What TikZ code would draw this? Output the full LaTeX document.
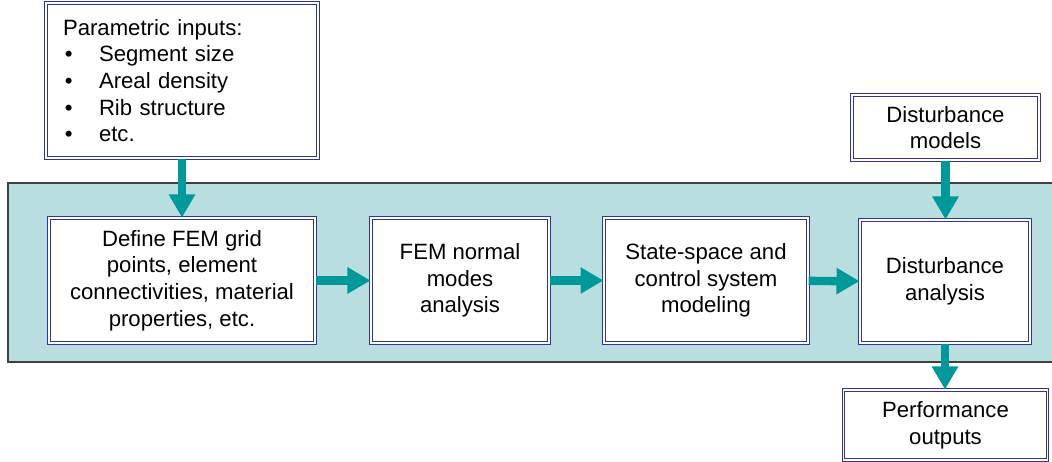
\documentclass[tikz,border=0pt]{standalone}
\usepackage{fontspec}
\setmainfont{Liberation Sans}
\usepackage{tikz}
\usetikzlibrary{arrows.meta}
\usetikzlibrary{positioning}

\definecolor{boxline}{RGB}{51,51,153}
\definecolor{flowcol}{RGB}{0,153,153}
\definecolor{bandfill}{RGB}{184,222,224}
\definecolor{bandline}{RGB}{64,64,64}

\newcommand{\bul}{\makebox[0.72cm][l]{\hspace{1pt}\textbullet}}

\begin{document}
\begin{tikzpicture}[x=0.02cm,y=-0.02cm,
  every node/.style={font=\fontsize{12.6}{15.2}\selectfont},
  blk/.style={draw=boxline,double=white,double distance=1pt,line width=0.6pt,fill=white,align=center,inner sep=0pt},
  flow/.style={flowcol,line width=4.8pt,-{Triangle[length=0.46cm,width=0.5cm]}}]
  \useasboundingbox (0,0) rectangle (1052,461);

  % band behind the chain
  \fill[bandfill] (8,183) rectangle (1060,362);
  \draw[bandline,thick] (1060,183) -- (8,183) -- (8,362) -- (1060,362);

  \node[blk,align=left,text width=4.76cm,inner xsep=0.34cm,minimum height=3.1cm] (inp) at (182,80.5)
    {Parametric inputs:\\ \bul Segment size\\ \bul Areal density\\ \bul Rib structure\\ \bul etc.};
  \node[blk,minimum width=3.74cm,minimum height=1.3cm] (dm) at (945.5,127.5) {Disturbance\\ models};

  \node[blk,minimum width=5.32cm,minimum height=2.5cm] (fem) at (182,280.5)
    {Define FEM grid\\ points, element\\ connectivities, material\\ properties, etc.};
  \node[blk,minimum width=3.56cm,minimum height=2.5cm] (modes) at (460,280.5) {FEM normal\\ modes\\ analysis};
  \node[blk,minimum width=4.08cm,minimum height=2.5cm] (ss) at (706,280.5) {State-space and\\ control system\\ modeling};
  \node[blk,minimum width=3.4cm,minimum height=2.46cm] (da) at (945,281.5) {Disturbance\\ analysis};

  \node[blk,minimum width=4.08cm,minimum height=1.4cm] (perf) at (945.5,425) {Performance\\ outputs};

  \draw[flow] (inp.south) -- (inp.south |- fem.north);
  \draw[flow] (fem) -- (modes);
  \draw[flow] (modes) -- (ss);
  \draw[flow] (ss) -- (da);
  \draw[flow] (dm.south) -- (dm.south |- da.north);
  \draw[flow] (da.south) -- (da.south |- perf.north);
\end{tikzpicture}
\end{document}
